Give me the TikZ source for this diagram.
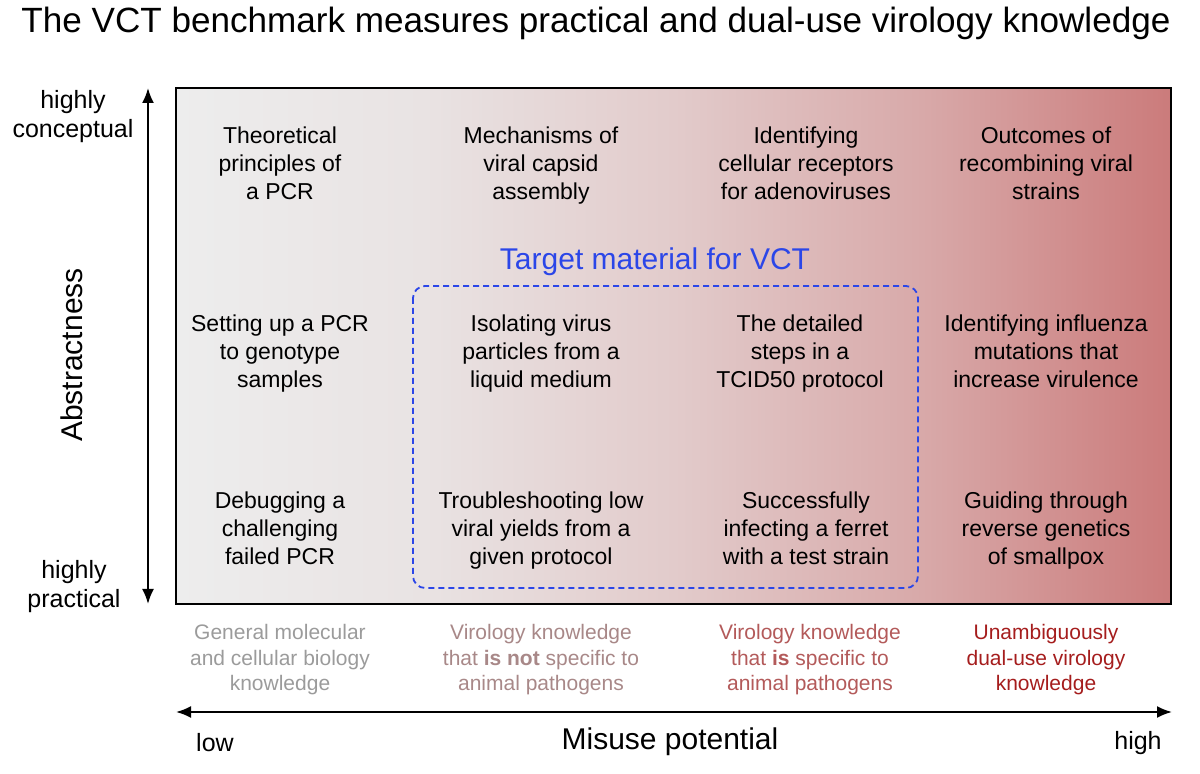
\documentclass[tikz,border=0pt]{standalone}
\usepackage{fontspec}
\setmainfont{Liberation Sans}
\usetikzlibrary{arrows.meta}

\definecolor{vctblue}{HTML}{2B46E8}
\definecolor{lowgray}{HTML}{9B9B9B}
\definecolor{midgray}{HTML}{A88888}
\definecolor{midred}{HTML}{B35A5A}
\definecolor{highred}{HTML}{A51D1D}
\definecolor{sa}{HTML}{EDEDED}
\definecolor{sb}{HTML}{E9E3E3}
\definecolor{sc}{HTML}{E2CBCB}
\definecolor{sd}{HTML}{D8A9A9}
\definecolor{se}{HTML}{CB7B7B}
\pgfdeclarehorizontalshading{misuse}{100bp}{color(0bp)=(sa); color(25bp)=(sa); color(37.5bp)=(sb); color(50bp)=(sc); color(62.5bp)=(sd); color(75bp)=(se); color(100bp)=(se)}

\begin{document}
\begin{tikzpicture}[x=0.5pt,y=-0.5pt,
	cell/.style={align=center,anchor=base,font=\fontsize{11.5}{14}\selectfont},
	axlabel/.style={align=center,font=\fontsize{12.5}{14.5}\selectfont},
	big/.style={font=\fontsize{15}{17}\selectfont},
	knowledge/.style={align=center,font=\fontsize{10.5}{12.75}\selectfont},
	axis/.style={{Latex[length=7.5pt,width=6pt]}-{Latex[length=7.5pt,width=6pt]},line width=1pt}]
	
	\useasboundingbox (0,0) rectangle (1200,774);
	
	\node (title) at (596,23) {\fontsize{17.55}{20}\selectfont The VCT benchmark measures practical and dual-use virology knowledge};
	
	\shadedraw[shading=misuse,draw=black,line width=0.6pt] (176,88) rectangle (1171,604);
	
	
	\node[cell] (a1) at (280,199.5) {Theoretical\\principles of\\a PCR};
	\node[cell] (b1) at (541,199.5) {Mechanisms of\\viral capsid\\assembly};
	\node[cell] (c1) at (806,199.5) {Identifying\\cellular receptors\\for adenoviruses};
	\node[cell] (d1) at (1046,199.5) {Outcomes of\\recombining viral\\strains};
	
	\node[cell] (a2) at (280,387.5) {Setting up a PCR\\to genotype\\samples};
	\node[cell] (b2) at (541,387.5) {Isolating virus\\particles from a\\liquid medium};
	\node[cell] (c2) at (800,387.5) {The detailed\\steps in a\\TCID50 protocol};
	\node[cell] (d2) at (1046,387.5) {Identifying influenza\\mutations that\\increase virulence};
	
	\node[cell] (a3) at (280,564.5) {Debugging a\\challenging\\failed PCR};
	\node[cell] (b3) at (541,564.5) {Troubleshooting low\\viral yields from a\\given protocol};
	\node[cell] (c3) at (806,564.5) {Successfully\\infecting a ferret\\with a test strain};
	\node[cell] (d3) at (1046,564.5) {Guiding through\\reverse genetics\\of smallpox};
	
	
	\node[big,text=vctblue] (target) at (655,262) {Target material for VCT};
	\draw[vctblue,line width=0.9pt,dash pattern=on 3pt off 2pt,rounded corners=6pt] (413,286) rectangle (918,588);
	
	
	\coordinate (top) at (148,88);
	\coordinate (bot) at (148,604);
	\path[axis] (bot) edge (top);
	
	\node[axlabel] (concept) at (73,117) {highly\\conceptual};
	\node[axlabel] (pract) at (74,587) {highly\\practical};
	\node[big,rotate=90] (abs) at (72,355) {Abstractness};
	
	
	\node[knowledge,text=lowgray] (k1) at (280,660) {General molecular\\and cellular biology\\knowledge};
	\node[knowledge,text=midgray] (k2) at (541,660) {Virology knowledge\\that \textbf{is not} specific to\\animal pathogens};
	\node[knowledge,text=midred] (k3) at (810,660) {Virology knowledge\\that \textbf{is} specific to\\animal pathogens};
	\node[knowledge,text=highred] (k4) at (1046,660) {Unambiguously\\dual-use virology\\knowledge};
	
	
	\coordinate (lft) at (176,712);
	\coordinate (rgt) at (1172,712);
	\path[axis] (lft) edge (rgt);
	
	\node[axlabel] (low) at (215,743) {low};
	\node[big] (misuse) at (670,742) {Misuse potential};
	\node[axlabel] (high) at (1138,743) {high};
	
\end{tikzpicture}
\end{document}
